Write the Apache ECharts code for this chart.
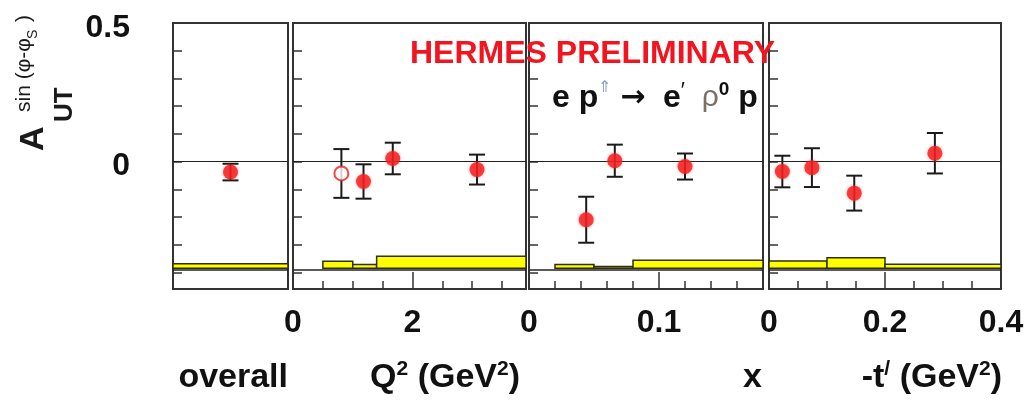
<!DOCTYPE html>
<html>
<head>
<meta charset="utf-8">
<script src="https://cdn.jsdelivr.net/npm/echarts@6/dist/echarts.min.js"></script>
<style>
  html, body { margin: 0; padding: 0; background: #fff; }
  #main { width: 1025px; height: 400px; }
</style>
</head>
<body>
<div id="main"></div>
<script>
// Asymmetry values per kinematic bin: bin centre, value, statistical error
const overallX = [0.5];
const overallY = [-0.038];
const overallErr = [0.030];

const q2X = [1.18, 1.67, 3.08];
const q2Y = [-0.072, 0.011, -0.029];
const q2Err = [0.062, 0.057, 0.054];
// lowest Q² bin, drawn with an open marker
const q2OpenX = [0.81];
const q2OpenY = [-0.043];
const q2OpenErr = [0.088];

const xbX = [0.044, 0.066, 0.120];
const xbY = [-0.210, 0.003, -0.018];
const xbErr = [0.083, 0.058, 0.047];

const tX = [0.023, 0.074, 0.147, 0.286];
const tY = [-0.036, -0.022, -0.114, 0.030];
const tErr = [0.057, 0.070, 0.063, 0.073];

// Systematic uncertainty bands: bin edges and band height above the baseline
const bandBase = -0.385;
const overallBandEdges = [0, 1];
const overallBandH = [0.016];
const q2BandEdges = [0.5, 1.0, 1.4, 3.9];
const q2BandH = [0.025, 0.013, 0.043];
const xbBandEdges = [0.02, 0.05, 0.08, 0.18];
const xbBandH = [0.013, 0.006, 0.029];
const tBandEdges = [0, 0.1, 0.2, 0.4];
const tBandH = [0.026, 0.038, 0.014];

// Axis ranges, ticks and tick labels
const yMin = -0.46, yMax = 0.5;
const yTicks = [-0.4, -0.3, -0.2, -0.1, 0, 0.1, 0.2, 0.3, 0.4];
const yLabels = [0, 0.5];
const q2Range = [0, 3.9];
const q2Minor = [0.5, 1, 1.5, 2.5, 3, 3.5];
const q2Major = [2];
const q2Labels = [0, 2];
const xbRange = [0, 0.18];
const xbMinor = [0.02, 0.04, 0.06, 0.08, 0.12, 0.14, 0.16];
const xbMajor = [0.1];
const xbLabels = [0, 0.1];
const tRange = [0, 0.4];
const tMinor = [0.05, 0.1, 0.15, 0.25, 0.3, 0.35];
const tMajor = [0.2];
const tLabels = [0, 0.2, 0.4];

// Axis titles (rich-text markup, {s|..} is a superscript)
const axisTitles = ['overall', 'Q{s|2} (GeV{s|2})', 'x', '-t{s|/} (GeV{s|2})'];

const FONT = '"Liberation Sans", Arial, Helvetica, sans-serif';
const INK = '#111';
const FRAME = '#333';
const RED = '#f21c1c';

const panels = [
  { left: 173, width: 115, range: [0, 1], minor: [], major: [], labels: [], titleShift: 0,
    x: overallX, y: overallY, err: overallErr, edges: overallBandEdges, bands: overallBandH },
  { left: 293, width: 233, range: q2Range, minor: q2Minor, major: q2Major, labels: q2Labels, titleShift: -6,
    x: q2X, y: q2Y, err: q2Err, edges: q2BandEdges, bands: q2BandH,
    openX: q2OpenX, openY: q2OpenY, openErr: q2OpenErr },
  { left: 529, width: 234, range: xbRange, minor: xbMinor, major: xbMajor, labels: xbLabels, titleShift: -1,
    x: xbX, y: xbY, err: xbErr, edges: xbBandEdges, bands: xbBandH },
  { left: 769, width: 232, range: tRange, minor: tMinor, major: tMajor, labels: tLabels, titleShift: 1,
    x: tX, y: tY, err: tErr, edges: tBandEdges, bands: tBandH }
];

const grids = [], xAxes = [], yAxes = [], series = [], titles = [];

function fmt(v) { return String(Math.round(v * 1000) / 1000); }

function errorBarRender(params, api) {
  const x = api.value(0), y = api.value(1), e = api.value(2);
  const top = api.coord([x, y + e]);
  const bot = api.coord([x, y - e]);
  const hw = 8;
  const st = { stroke: '#1a1a1a', lineWidth: 2 };
  return {
    type: 'group',
    children: [
      { type: 'line', shape: { x1: top[0], y1: top[1], x2: bot[0], y2: bot[1] }, style: st },
      { type: 'line', shape: { x1: top[0] - hw, y1: top[1], x2: top[0] + hw, y2: top[1] }, style: st },
      { type: 'line', shape: { x1: bot[0] - hw, y1: bot[1], x2: bot[0] + hw, y2: bot[1] }, style: st }
    ]
  };
}

function bandRender(params, api) {
  const p0 = api.coord([api.value(0), api.value(3)]);
  const p1 = api.coord([api.value(1), api.value(2)]);
  return {
    type: 'rect',
    shape: { x: p0[0], y: p0[1], width: p1[0] - p0[0], height: p1[1] - p0[1] },
    style: { fill: '#ffff00', stroke: '#2e2e14', lineWidth: 1.5 }
  };
}

panels.forEach((p, i) => {
  grids.push({
    left: p.left, top: 23, width: p.width, height: 266,
    outerBoundsMode: 'none', containLabel: false,
    show: true, borderColor: FRAME, borderWidth: 2, backgroundColor: 'transparent'
  });
  const xMinorIdx = xAxes.length;
  // short inward ticks
  xAxes.push({
    type: 'value', gridIndex: i, position: 'bottom', min: p.range[0], max: p.range[1],
    axisLine: { show: true, onZero: false, lineStyle: { color: FRAME, width: 2 } },
    axisTick: p.minor.length ? { show: true, inside: true, length: 8, customValues: p.minor,
      lineStyle: { color: FRAME, width: 1.5 } } : { show: false },
    axisLabel: { show: false },
    splitLine: { show: false }
  });
  // long inward ticks and tick labels
  xAxes.push({
    type: 'value', gridIndex: i, position: 'bottom', offset: 0, min: p.range[0], max: p.range[1],
    axisLine: { show: false, onZero: false },
    axisTick: p.major.length ? { show: true, inside: true, length: 17, customValues: p.major,
      lineStyle: { color: FRAME, width: 1.5 } } : { show: false },
    axisLabel: p.labels.length ? { show: true, customValues: p.labels, margin: 18,
      fontSize: 32, fontWeight: 'bold', fontFamily: FONT, color: INK, formatter: fmt } : { show: false },
    splitLine: { show: false }
  });
  yAxes.push({
    type: 'value', gridIndex: i, position: 'left', min: yMin, max: yMax,
    axisLine: { show: true, onZero: false, lineStyle: { color: FRAME, width: 2 } },
    axisTick: { show: true, inside: true, length: 9, customValues: yTicks,
      lineStyle: { color: FRAME, width: 1.5 } },
    axisLabel: i === 0 ? { show: true, customValues: yLabels, margin: 43,
      verticalAlign: 'top', lineHeight: 10,
      fontSize: 32, fontWeight: 'bold', fontFamily: FONT, color: INK, formatter: fmt } : { show: false },
    splitLine: { show: false }
  });

  // axis title, right-aligned under the panel
  titles.push({
    type: 'text', x: p.left + p.width + p.titleShift, y: 378, z: 20,
    style: {
      text: axisTitles[i], fontSize: 34, fontWeight: 'bold', fontFamily: FONT, fill: INK,
      align: 'right', verticalAlign: 'middle',
      rich: {
        s: { fontSize: 21, fontWeight: 'bold', fontFamily: FONT, fill: INK, verticalAlign: 'top', lineHeight: 38 }
      }
    }
  });

  // systematic band with its baseline and the zero reference line
  series.push({
    type: 'custom', xAxisIndex: xMinorIdx, yAxisIndex: i, z: 2,
    renderItem: bandRender,
    encode: { x: [0, 1], y: [2, 3] },
    data: p.bands.map((h, k) => [p.edges[k], p.edges[k + 1], bandBase, bandBase + h]),
    markLine: {
      silent: true, symbol: 'none', label: { show: false }, animation: false,
      data: [
        { yAxis: 0, lineStyle: { color: '#222', width: 1, type: 'solid' } },
        { yAxis: bandBase, lineStyle: { color: '#222', width: 1.5, type: 'solid' } }
      ]
    }
  });

  // statistical error bars
  series.push({
    type: 'custom', xAxisIndex: xMinorIdx, yAxisIndex: i, z: 4,
    renderItem: errorBarRender,
    encode: { x: 0, y: 1 },
    data: p.x.map((x, k) => [x, p.y[k], p.err[k]])
  });
  series.push({
    type: 'scatter', xAxisIndex: xMinorIdx, yAxisIndex: i, z: 5,
    symbol: 'circle', symbolSize: 15,
    itemStyle: { color: RED, shadowBlur: 3, shadowColor: 'rgba(255,60,60,0.6)' },
    data: p.x.map((x, k) => [x, p.y[k]])
  });

  if (p.openX) {
    series.push({
      type: 'custom', xAxisIndex: xMinorIdx, yAxisIndex: i, z: 4,
      renderItem: errorBarRender,
      encode: { x: 0, y: 1 },
      data: p.openX.map((x, k) => [x, p.openY[k], p.openErr[k]])
    });
    series.push({
      type: 'scatter', xAxisIndex: xMinorIdx, yAxisIndex: i, z: 5,
      symbol: 'circle', symbolSize: 14,
      itemStyle: { color: '#fff', borderColor: RED, borderWidth: 2 },
      data: p.openX.map((x, k) => [x, p.openY[k]])
    });
  }
});

// rotated y-axis title: A_UT^{sin(φ-φS)}
const ytitle = [
  { text: 'A', x: 34, y: 151, size: 34, weight: 'bold' },
  { text: 'UT', x: 65, y: 122, size: 26, weight: 'bold' },
  { text: 'sin (φ-φ', x: 24, y: 112, size: 21, weight: 'normal' },
  { text: 'S', x: 33, y: 39, size: 14, weight: 'normal' },
  { text: ')', x: 24, y: 22, size: 21, weight: 'normal' }
].map(t => ({
  type: 'text', x: t.x, y: t.y, rotation: Math.PI / 2, z: 10,
  style: {
    text: t.text, fontSize: t.size, fontWeight: t.weight, fontFamily: FONT,
    fill: '#1a1a1a', align: 'left', verticalAlign: 'middle'
  }
}));

const chart = echarts.init(document.getElementById('main'), null, { renderer: 'canvas' });
chart.setOption({
  animation: false,
  backgroundColor: '#fff',
  grid: grids,
  xAxis: xAxes,
  yAxis: yAxes,
  series: series,
  graphic: ytitle.concat(titles, [
    {
      type: 'text', x: 410, y: 54, z: 20,
      style: {
        text: 'HERMES PRELIMINARY', fontSize: 32, fontWeight: 'bold', fontFamily: FONT,
        fill: '#f2141e', align: 'left', verticalAlign: 'middle'
      }
    },
    {
      type: 'text', x: 552, y: 98, z: 20,
      style: {
        text: '{b|e p}{up|⇑}{b| }{arr|→}{b|  e}{pr|′}{rho|  ρ}{zero|0}{b| p}',
        fontFamily: FONT, align: 'left', verticalAlign: 'middle',
        rich: {
          b: { fontSize: 32, fontWeight: 'bold', fontFamily: FONT, fill: INK, lineHeight: 36 },
          arr: { fontSize: 30, fontWeight: 'bold', fontFamily: '"DejaVu Sans", sans-serif', fill: INK, lineHeight: 36 },
          up: { fontSize: 16, fontFamily: FONT, fill: '#8a9ac0', verticalAlign: 'top', lineHeight: 36 },
          pr: { fontSize: 22, fontFamily: FONT, fill: INK, verticalAlign: 'top', lineHeight: 36 },
          rho: { fontSize: 30, fontFamily: FONT, fill: '#7a7068', lineHeight: 36 },
          zero: { fontSize: 19, fontWeight: 'bold', fontFamily: FONT, fill: INK, verticalAlign: 'top', lineHeight: 36 }
        }
      }
    }
  ])
});
</script>
</body>
</html>
